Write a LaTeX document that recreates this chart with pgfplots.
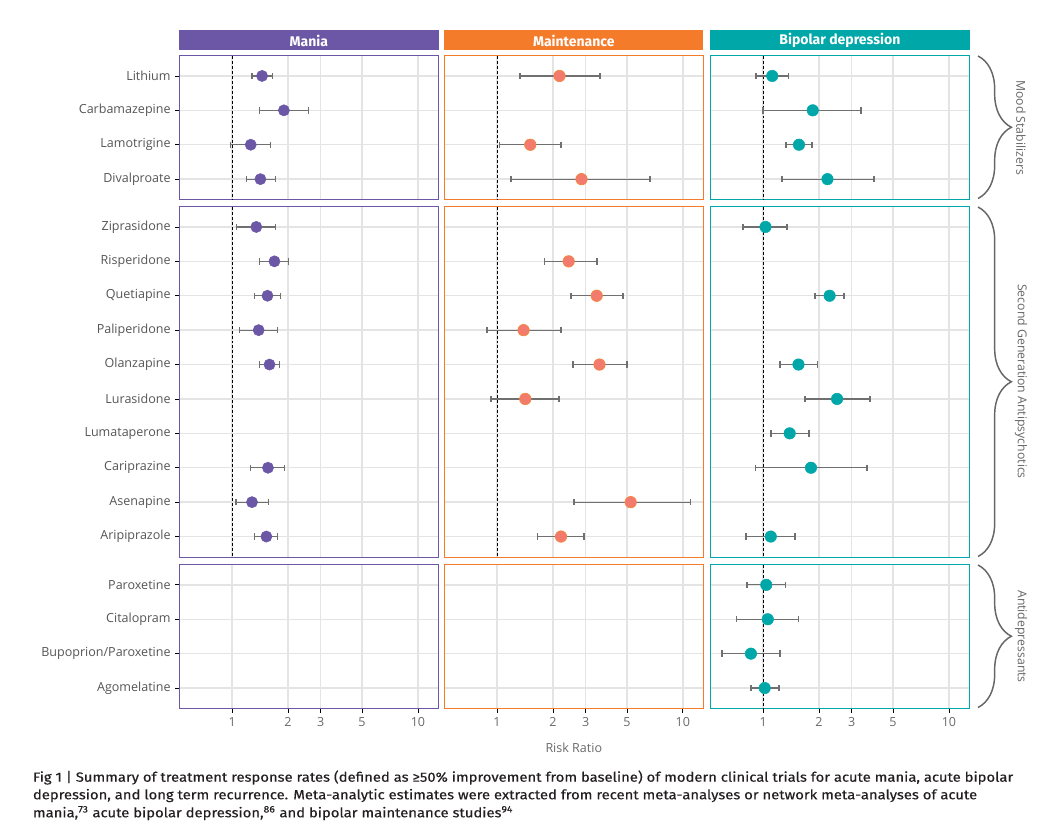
\documentclass[border=0pt]{standalone}
\usepackage{fontspec}
\usepackage{pgfplots}
\usepackage{pgfplotstable}
\pgfplotsset{compat=1.18}
\usetikzlibrary{decorations.pathreplacing}
\setmainfont{Open Sans}
\newfontfamily\labfont{Open Sans}
\newfontfamily\hdrfont{Fira Sans}
\newfontfamily\capfont{Fira Sans}[FakeStretch=1.112, FakeBold=0.35]

\definecolor{maniaC}{HTML}{6B57A5}
\definecolor{maintC}{HTML}{F47B2A}
\definecolor{maintF}{HTML}{F27B6E}
\definecolor{maintE}{HTML}{F4883A}
\definecolor{bipC}{HTML}{00A7A8}
\definecolor{gridc}{HTML}{E4E4E4}
\definecolor{cigray}{HTML}{707070}
\definecolor{labgray}{HTML}{555555}
\definecolor{xlabgray}{HTML}{6A6A6A}
\definecolor{bracegray}{HTML}{666666}
\definecolor{captxt}{HTML}{231F20}

% i = row position (top = 1), rr = risk ratio, lo/hi = confidence interval
\pgfplotstableread{
i rr lo hi
1 1.45 1.28 1.65
2 1.90 1.40 2.57
3 1.26 0.98 1.61
4 1.42 1.20 1.71
}\maniaMS
\pgfplotstableread{
i rr lo hi
1 1.35 1.06 1.72
2 1.69 1.40 2.01
3 1.55 1.32 1.82
4 1.39 1.10 1.75
5 1.59 1.40 1.80
8 1.56 1.25 1.91
9 1.28 1.05 1.57
10 1.53 1.32 1.75
}\maniaSGA
\pgfplotstableread{
i rr lo hi
1 2.17 1.33 3.58
3 1.51 1.03 2.21
4 2.85 1.19 6.65
}\maintMS
\pgfplotstableread{
i rr lo hi
2 2.43 1.80 3.45
3 3.44 2.50 4.76
4 1.39 0.88 2.21
5 3.56 2.57 5.01
6 1.42 0.93 2.16
9 5.24 2.60 11.0
10 2.21 1.65 2.94
}\maintSGA
\pgfplotstableread{
i rr lo hi
1 1.12 0.92 1.37
2 1.85 1.00 3.36
3 1.56 1.33 1.83
4 2.22 1.26 3.95
}\bipMS
\pgfplotstableread{
i rr lo hi
1 1.03 0.78 1.34
3 2.28 1.91 2.72
5 1.55 1.23 1.96
6 2.50 1.68 3.75
7 1.39 1.10 1.77
8 1.81 0.91 3.62
10 1.10 0.81 1.48
}\bipSGA
\pgfplotstableread{
i rr lo hi
1 1.04 0.82 1.32
2 1.06 0.72 1.55
3 0.86 0.60 1.23
4 1.02 0.86 1.22
}\bipAD

\pgfplotsset{
    xmin=0.52, xmax=12.9,
    width=194.4pt, scale only axis,
    y dir=reverse,
    xtick={1,2,3,5,10}, xticklabels={},
    xmajorgrids, ymajorgrids,
    major grid style={line width=1pt, draw=gridc},
    tick style={draw=none},
    tick align=outside,
    major tick length=3pt,
    tick label style={font=\labfont\fontsize{9.4}{10}\selectfont},
    yticklabel style={text=labgray},
    xticklabel style={text=xlabgray},
}
% CI bars drawn beneath the markers
\newcommand{\ci}[2]{\addplot[draw=none, mark=none, forget plot,
    error bars/x dir=both, error bars/x explicit,
    error bars/error mark=|,
    error bars/error bar style={draw=cigray, line width=0.9pt},
    error bars/error mark options={draw=cigray, line width=#2, mark size=2.4pt}]
  table[x=rr, y=i, x error plus expr=\thisrow{hi}-\thisrow{rr}, x error minus expr=\thisrow{rr}-\thisrow{lo}] {#1};}
\newcommand{\refl}[1]{\addplot[black, dash pattern=on 2.2pt off 1.5pt, line width=0.7pt, forget plot] coordinates {(1,0) (1,#1)};}

\begin{document}
\begin{tikzpicture}
\useasboundingbox (0,0) rectangle (780.75pt,-621pt);

% ---------------- Mania column ----------------
\begin{axis}[xmode=log, height=108.36pt, ymin=0.4, ymax=4.6, ytick={1,2,3,4},
  ytick style={draw=black, line width=0.6pt}, ytick pos=left,
  at={({179.3*0.75pt},{-55.3*0.75pt})}, anchor=north west,
  axis line style={draw=maniaC, line width=0.8pt},
  yticklabels={Lithium,Carbamazepine,Lamotrigine,Divalproate}]
\refl{5}
\ci{\maniaMS}{0.9pt}
\addplot[only marks, mark=*, mark size=4.2pt, mark options={fill=maniaC, draw=maniaC}] table[x=rr,y=i] {\maniaMS};
\end{axis}
\begin{axis}[xmode=log, height=263.16pt, ymin=0.4, ymax=10.6, ytick={1,...,10},
  ytick style={draw=black, line width=0.6pt}, ytick pos=left,
  at={({179.3*0.75pt},{-206.3*0.75pt})}, anchor=north west,
  axis line style={draw=maniaC, line width=0.8pt},
  yticklabels={Ziprasidone,Risperidone,Quetiapine,Paliperidone,Olanzapine,Lurasidone,Lumataperone,Cariprazine,Asenapine,Aripiprazole}]
\refl{11}
\ci{\maniaSGA}{0.9pt}
\addplot[only marks, mark=*, mark size=4.2pt, mark options={fill=maniaC, draw=maniaC}] table[x=rr,y=i] {\maniaSGA};
\end{axis}
\begin{axis}[xmode=log, height=108.36pt, ymin=0.4, ymax=4.6, ytick={1,2,3,4},
  ytick style={draw=black, line width=0.6pt}, ytick pos=left,
  xticklabels={1,2,3,5,10}, xtick style={draw=black, line width=0.6pt}, xtick pos=bottom,
  at={({179.3*0.75pt},{-564.2*0.75pt})}, anchor=north west,
  axis line style={draw=maniaC, line width=0.8pt},
  yticklabels={Paroxetine,Citalopram,Bupoprion/Paroxetine,Agomelatine}]
\addplot[draw=none, forget plot] coordinates {(1,1)};
\end{axis}

% ---------------- Maintenance column ----------------
\begin{axis}[xmode=log, height=108.36pt, ymin=0.4, ymax=4.6, ytick={1,2,3,4}, yticklabels={},
  at={({444.2*0.75pt},{-55.3*0.75pt})}, anchor=north west,
  axis line style={draw=maintC, line width=0.8pt}]
\refl{5}
\ci{\maintMS}{1.3pt}
\addplot[only marks, mark=*, mark size=4.3pt, mark options={fill=maintF, draw=maintE, line width=0.5pt}] table[x=rr,y=i] {\maintMS};
\end{axis}
\begin{axis}[xmode=log, height=263.16pt, ymin=0.4, ymax=10.6, ytick={1,...,10}, yticklabels={},
  at={({444.2*0.75pt},{-206.3*0.75pt})}, anchor=north west,
  axis line style={draw=maintC, line width=0.8pt}]
\refl{11}
\ci{\maintSGA}{1.3pt}
\addplot[only marks, mark=*, mark size=4.3pt, mark options={fill=maintF, draw=maintE, line width=0.5pt}] table[x=rr,y=i] {\maintSGA};
\end{axis}
\begin{axis}[xmode=log, height=108.36pt, ymin=0.4, ymax=4.6, ytick={1,2,3,4}, yticklabels={},
  xticklabels={1,2,3,5,10}, xtick style={draw=black, line width=0.6pt}, xtick pos=bottom,
  at={({444.2*0.75pt},{-564.2*0.75pt})}, anchor=north west,
  axis line style={draw=maintC, line width=0.8pt}]
\addplot[draw=none, forget plot] coordinates {(1,1)};
\end{axis}

% ---------------- Bipolar depression column ----------------
\begin{axis}[xmode=log, height=108.36pt, ymin=0.4, ymax=4.6, ytick={1,2,3,4}, yticklabels={},
  at={({710.3*0.75pt},{-55.3*0.75pt})}, anchor=north west,
  axis line style={draw=bipC, line width=0.8pt}]
\refl{5}
\ci{\bipMS}{1.3pt}
\addplot[only marks, mark=*, mark size=4.3pt, mark options={fill=bipC, draw=bipC}] table[x=rr,y=i] {\bipMS};
\end{axis}
\begin{axis}[xmode=log, height=263.16pt, ymin=0.4, ymax=10.6, ytick={1,...,10}, yticklabels={},
  at={({710.3*0.75pt},{-206.3*0.75pt})}, anchor=north west,
  axis line style={draw=bipC, line width=0.8pt}]
\refl{11}
\ci{\bipSGA}{1.3pt}
\addplot[only marks, mark=*, mark size=4.3pt, mark options={fill=bipC, draw=bipC}] table[x=rr,y=i] {\bipSGA};
\end{axis}
\begin{axis}[xmode=log, height=108.36pt, ymin=0.4, ymax=4.6, ytick={1,2,3,4}, yticklabels={},
  xticklabels={1,2,3,5,10}, xtick style={draw=black, line width=0.6pt}, xtick pos=bottom,
  at={({710.3*0.75pt},{-564.2*0.75pt})}, anchor=north west,
  axis line style={draw=bipC, line width=0.8pt}]
\refl{5}
\ci{\bipAD}{1.3pt}
\addplot[only marks, mark=*, mark size=4.3pt, mark options={fill=bipC, draw=bipC}] table[x=rr,y=i] {\bipAD};
\end{axis}

% ---------------- decorations in pixel units ----------------
\begin{scope}[x=0.75pt, y=-0.75pt]
  \fill[maniaC] (179.3,30) rectangle (438.5,50);
  \fill[maintC] (444.2,30) rectangle (703.4,50);
  \fill[bipC] (710.3,30) rectangle (969.5,50);
  \node[text=white, font=\hdrfont\bfseries\fontsize{10.5}{11}\selectfont] at (308.9,40.5) {Mania};
  \node[text=white, font=\hdrfont\bfseries\fontsize{10.5}{11}\selectfont] at (573.8,40.5) {Maintenance};
  \node[text=white, font=\hdrfont\bfseries\fontsize{10.5}{11}\selectfont] at (839.9,40.5) {Bipolar depression};

  \draw[bracegray, line width=1.1pt, decorate, decoration={brace, amplitude=25pt}] (978,56) -- (978,198.5);
  \draw[bracegray, line width=1.1pt, decorate, decoration={brace, amplitude=25pt}] (978,207) -- (978,556.5);
  \draw[bracegray, line width=1.1pt, decorate, decoration={brace, amplitude=25pt}] (978,565) -- (978,707.5);
  \node[rotate=-90, text=bracegray, font=\labfont\fontsize{9.2}{10}\selectfont] at (1021,127.5) {Mood Stabilizers};
  \node[rotate=-90, text=bracegray, font=\labfont\fontsize{9.2}{10}\selectfont] at (1021,381.5) {Second Generation Antipsychotics};
  \node[rotate=-90, text=bracegray, font=\labfont\fontsize{9.2}{10}\selectfont] at (1021,636.5) {Antidepressants};

  \node[text=xlabgray, font=\labfont\fontsize{9.4}{10}\selectfont] at (573.8,747.5) {Risk Ratio};

  \node[anchor=base west, inner sep=0pt, text=captxt, font=\capfont\fontsize{10}{11}\selectfont] at (32.7,781.7)
    {Fig 1 | Summary of treatment response rates (defined as ≥50\% improvement from baseline) of modern clinical trials for acute mania, acute bipolar};
  \node[anchor=base west, inner sep=0pt, text=captxt, font=\capfont\fontsize{10}{11}\selectfont] at (32.7,799.3)
    {depression, and long term recurrence. Meta-analytic estimates were extracted from recent meta-analyses or network meta-analyses of acute};
  \node[anchor=base west, inner sep=0pt, text=captxt, font=\capfont\fontsize{10}{11}\selectfont] at (32.7,817.3)
    {mania,\textsuperscript{73} acute bipolar depression,\textsuperscript{86} and bipolar maintenance studies\textsuperscript{94}};
\end{scope}
\end{tikzpicture}
\end{document}
